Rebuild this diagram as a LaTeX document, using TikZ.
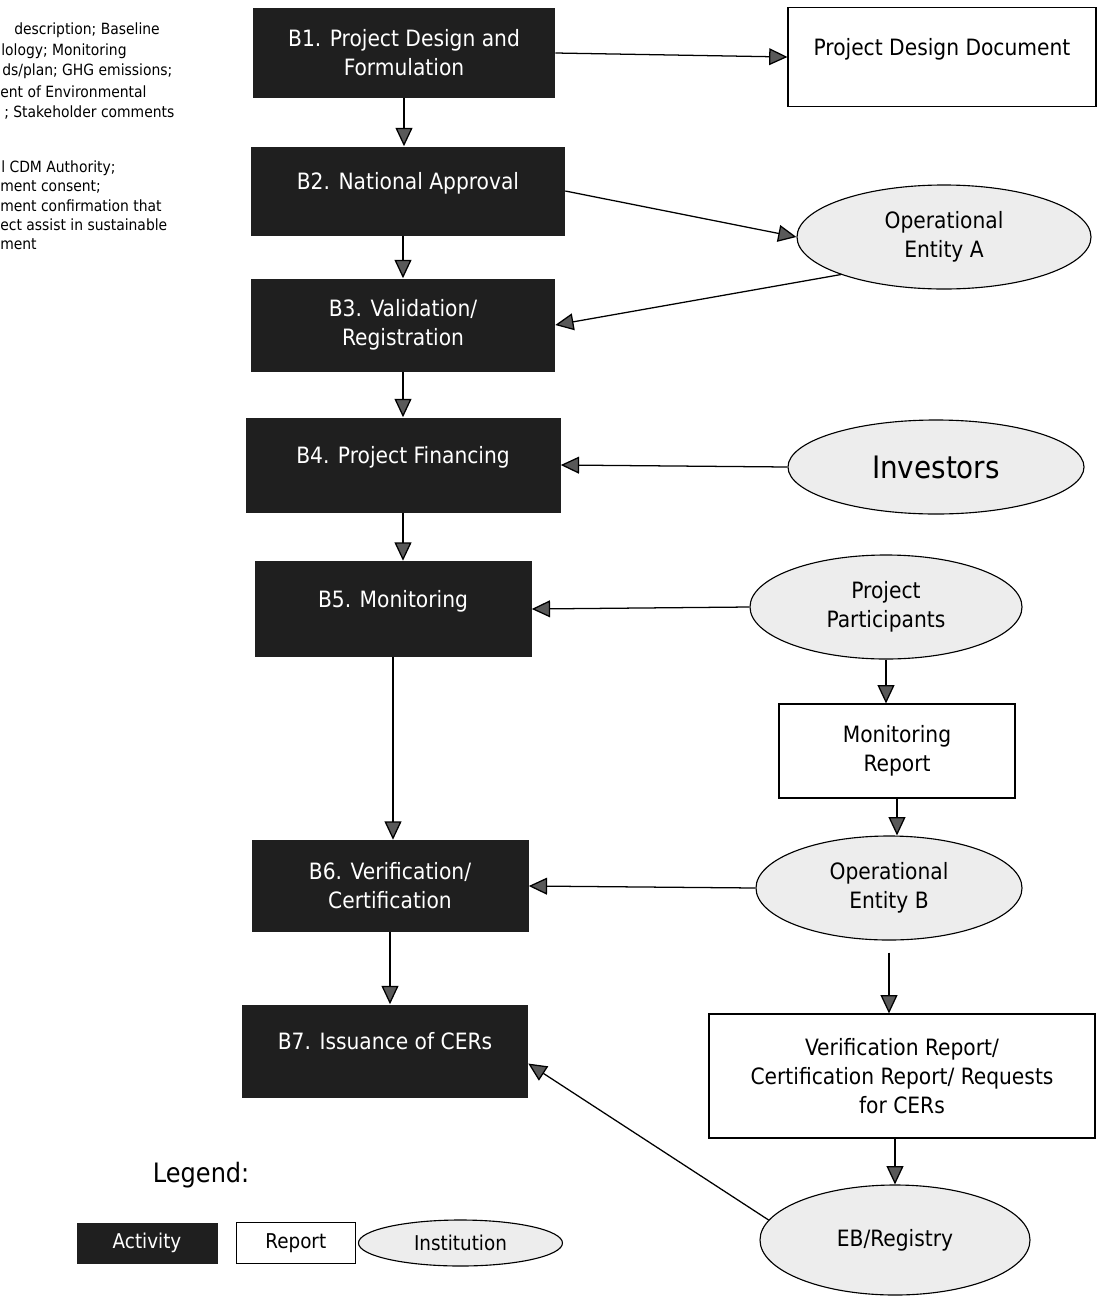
\documentclass[tikz,border=0pt]{standalone}
\usepackage{fontspec}
\setmainfont{DejaVu Sans Condensed}
\usetikzlibrary{arrows.meta,positioning,shapes.geometric}

\newlength{\px}\setlength{\px}{0.025cm}
\newcommand{\boxfont}{\fontsize{16}{20.5}\selectfont}
\newcommand{\bigfont}{\fontsize{22}{26}\selectfont}
\newcommand{\notefont}{\fontsize{11}{13}\selectfont}
\newcommand{\keyfont}{\fontsize{14.5}{17}\selectfont}
\newcommand{\legendfont}{\fontsize{19}{22}\selectfont}

\begin{document}
\begin{tikzpicture}[x=0.025cm,y=-0.025cm,
  activity/.style={rectangle,fill=black!88,text=white,align=center,inner sep=2pt,font=\boxfont},
  report/.style={rectangle,draw,line width=0.8pt,fill=white,align=center,inner sep=2pt,font=\boxfont},
  institution/.style={ellipse,draw,line width=0.8pt,fill=black!7,align=center,inner sep=0pt,font=\boxfont},
  oneline/.style={text depth=14pt},
  note/.style={anchor=west,inner sep=0pt,font=\notefont},
  arr/.style={-{Triangle[length=13pt,width=12pt,fill=black!65]},line width=0.9pt}]

 \path[use as bounding box,fill=white] (0,0) rectangle (1100,1296);

 % ---- cut-off notes on the left ----
 \node[note] (n1) at (14,30) {description; Baseline};
 \node[note] (n2) at (1,51) {lology; Monitoring};
 \node[note] (n3) at (2,71) {ds/plan; GHG emissions;};
 \node[note] (n4) at (0,92) {ent of Environmental};
 \node[note] (n5) at (4,113) {; Stakeholder comments};
 \node[note] (m1) at (1,168) {l CDM Authority;};
 \node[note] (m2) at (0,187) {ment consent;};
 \node[note] (m3) at (0,206) {ment confirmation that};
 \node[note] (m4) at (0,225) {ect assist in sustainable};
 \node[note] (m5) at (0,244) {ment};

 % ---- activities ----
 \node[activity,minimum width=302\px,minimum height=90\px] (B1) at (404,53) {B1. Project Design and\\Formulation};
 \node[activity,oneline,minimum width=314\px,minimum height=89\px] (B2) at (408,191) {B2. National Approval};
 \node[activity,minimum width=304\px,minimum height=93\px] (B3) at (403,325) {B3. Validation/\\Registration};
 \node[activity,oneline,minimum width=315\px,minimum height=95\px] (B4) at (403,465) {B4. Project Financing};
 \node[activity,oneline,minimum width=277\px,minimum height=96\px] (B5) at (393,609) {B5. Monitoring};
 \node[activity,minimum width=277\px,minimum height=92\px] (B6) at (390,886) {B6. Verification/\\Certification};
 \node[activity,oneline,minimum width=286\px,minimum height=93\px] (B7) at (385,1051) {B7. Issuance of CERs};

 % ---- reports and institutions ----
 \node[report,oneline,minimum width=308\px,minimum height=99\px] (PDD) at (942,57) {Project Design Document};
 \node[institution,minimum width=294\px,minimum height=104\px] (OEA) at (944,237) {Operational\\Entity A};
 \node[institution,minimum width=296\px,minimum height=94\px,font=\bigfont] (INV) at (936,467) {Investors};
 \node[institution,minimum width=272\px,minimum height=104\px] (PP) at (886,607) {Project\\Participants};
 \node[report,minimum width=236\px,minimum height=94\px] (MR) at (897,751) {Monitoring\\Report};
 \node[institution,minimum width=266\px,minimum height=104\px] (OEB) at (889,888) {Operational\\Entity B};
 \node[report,minimum width=386\px,minimum height=124\px] (VR) at (902,1076) {Verification Report/\\Certification Report/ Requests\\for CERs};
 \node[institution,minimum width=270\px,minimum height=110\px] (EB) at (895,1240) {EB/Registry};

 % ---- flow ----
 \draw[arr] (B1.east) -- (PDD.west);
 \draw[arr] (B1.south) -- (B1.south |- B2.north);
 \draw[arr] (B2.east) -- (OEA.west);
 \draw[arr] (OEA.200) -- (B3.east);
 \draw[arr] (B3.north |- B2.south) -- (B3.north);
 \draw[arr] (B3.south) -- (B3.south |- B4.north);
 \draw[arr] (INV.west) -- (B4.east);
 \draw[arr] (B4.south) -- (B4.south |- B5.north);
 \draw[arr] (PP.west) -- (B5.east);
 \draw[arr] (B5.south) -- (B5.south |- B6.north);
 \draw[arr] (PP.south) -- (PP.south |- MR.north);
 \draw[arr] (MR.south) -- (MR.south |- OEB.north);
 \draw[arr] (OEB.west) -- (B6.east);
 \draw[arr] (B6.south) -- (B6.south |- B7.north);
 \draw[arr,shorten <=12\px] (OEB.south) -- (OEB.south |- VR.north);
 \draw[arr] (VR.south -| EB.north) -- (EB.north);
 \draw[arr] (EB.171) -- (B7.-5);

 % ---- legend ----
 \node[anchor=west,font=\legendfont] (leg) at (148,1175) {Legend:};
 \node[activity,font=\keyfont,minimum width=141\px,minimum height=41\px] (kA) at (147,1243) {Activity};
 \node[report,font=\keyfont,minimum width=119\px,minimum height=41\px,right=18\px of kA] (kR) {Report};
 \node[institution,font=\keyfont,minimum width=204\px,minimum height=46\px,right=2\px of kR] (kI) {Institution};
\end{tikzpicture}
\end{document}
